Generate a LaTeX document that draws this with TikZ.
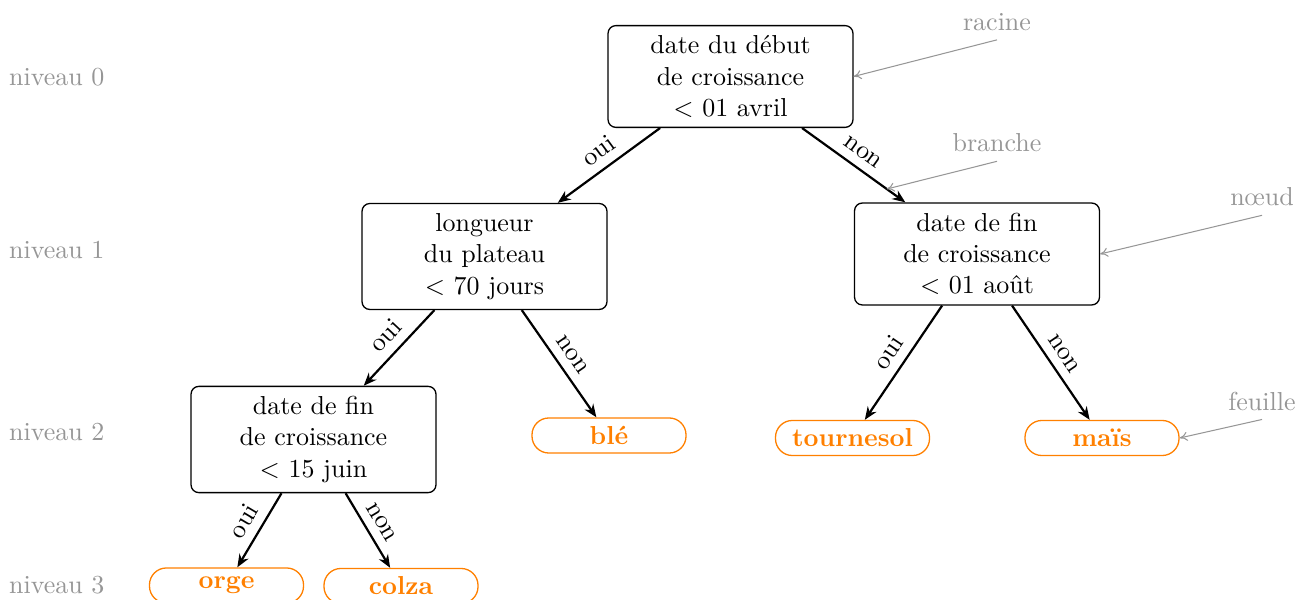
\documentclass[tikz,border=0pt]{standalone}
\usepackage{fontspec}
\usetikzlibrary{arrows.meta}
\definecolor{leaforange}{RGB}{255,128,0}
\definecolor{annot}{RGB}{150,150,150}
\begin{document}
\begin{tikzpicture}[x=0.385pt,y=-0.385pt,
  test/.style={draw, rounded corners=3pt, line width=0.5pt, align=center, minimum width=94.3pt, inner ysep=3.9pt},
  leaf/.style={draw=leaforange, text=leaforange, font=\bfseries, rounded corners=6.5pt,
    minimum width=59.3pt, minimum height=13.5pt, inner sep=1pt, line width=0.5pt},
  edge/.style={line width=0.85pt, -{Stealth[length=5pt,width=4pt]}},
  lab/.style={sloped, above, midway},
  note/.style={text=annot},
  notearrow/.style={draw=annot, line width=0.4pt, -{To[length=3pt,width=3.5pt]}},
  levellab/.style={text=annot, anchor=west}]
\useasboundingbox (0,0) rectangle (1308,600);

% level labels
\node[levellab] (lv0) at (0,77) {niveau 0};
\node[levellab] (lv1) at (0,250) {niveau 1};
\node[levellab] (lv2) at (0,432) {niveau 2};
\node[levellab] (lv3) at (0,585) {niveau 3};

% tests
\node[test] (root) at (730.5,76.5) {date du début\\de croissance\\$<$ 01 avril};
\node[test] (l1a) at (484.5,256.5) {longueur\\du plateau\\$<$ 70 jours};
\node[test] (l1b) at (977,254) {date de fin\\de croissance\\$<$ 01 août};
\node[test] (l2a) at (313.5,439.5) {date de fin\\de croissance\\$<$ 15 juin};

% leaves
\node[leaf] (ble) at (609,435.5) {blé};
\node[leaf] (tour) at (852.5,438) {tournesol};
\node[leaf] (mais) at (1102,438) {maïs};
\node[leaf] (orge) at (226.5,585.5) {orge};
\node[leaf] (colza) at (401,586) {colza};

% edges
\draw[edge] (root) -- node[lab] {oui} (l1a);
\draw[edge] (root) -- node[lab] {non} coordinate[pos=0.82] (brpt) (l1b);
\draw[edge] (l1a) -- node[lab] {oui} (l2a);
\draw[edge] (l1a) -- node[lab] {non} (ble);
\draw[edge] (l1b) -- node[lab] {oui} (tour);
\draw[edge] (l1b) -- node[lab] {non} (mais);
\draw[edge] (l2a) -- node[lab] {oui} (orge);
\draw[edge] (l2a) -- node[lab] {non} (colza);

% annotations
\node[note] (racine) at (997,22) {racine};
\node[note] (branche) at (997,143) {branche};
\node[note] (noeud) at (1262,197) {nœud};
\node[note] (feuille) at (1262,401) {feuille};
\draw[notearrow] (racine.south) -- (root.east);
\draw[notearrow] (branche.south) -- (brpt);
\draw[notearrow] (noeud.south) -- (l1b.east);
\draw[notearrow] (feuille.south) -- (mais.east);
\end{tikzpicture}
\end{document}
